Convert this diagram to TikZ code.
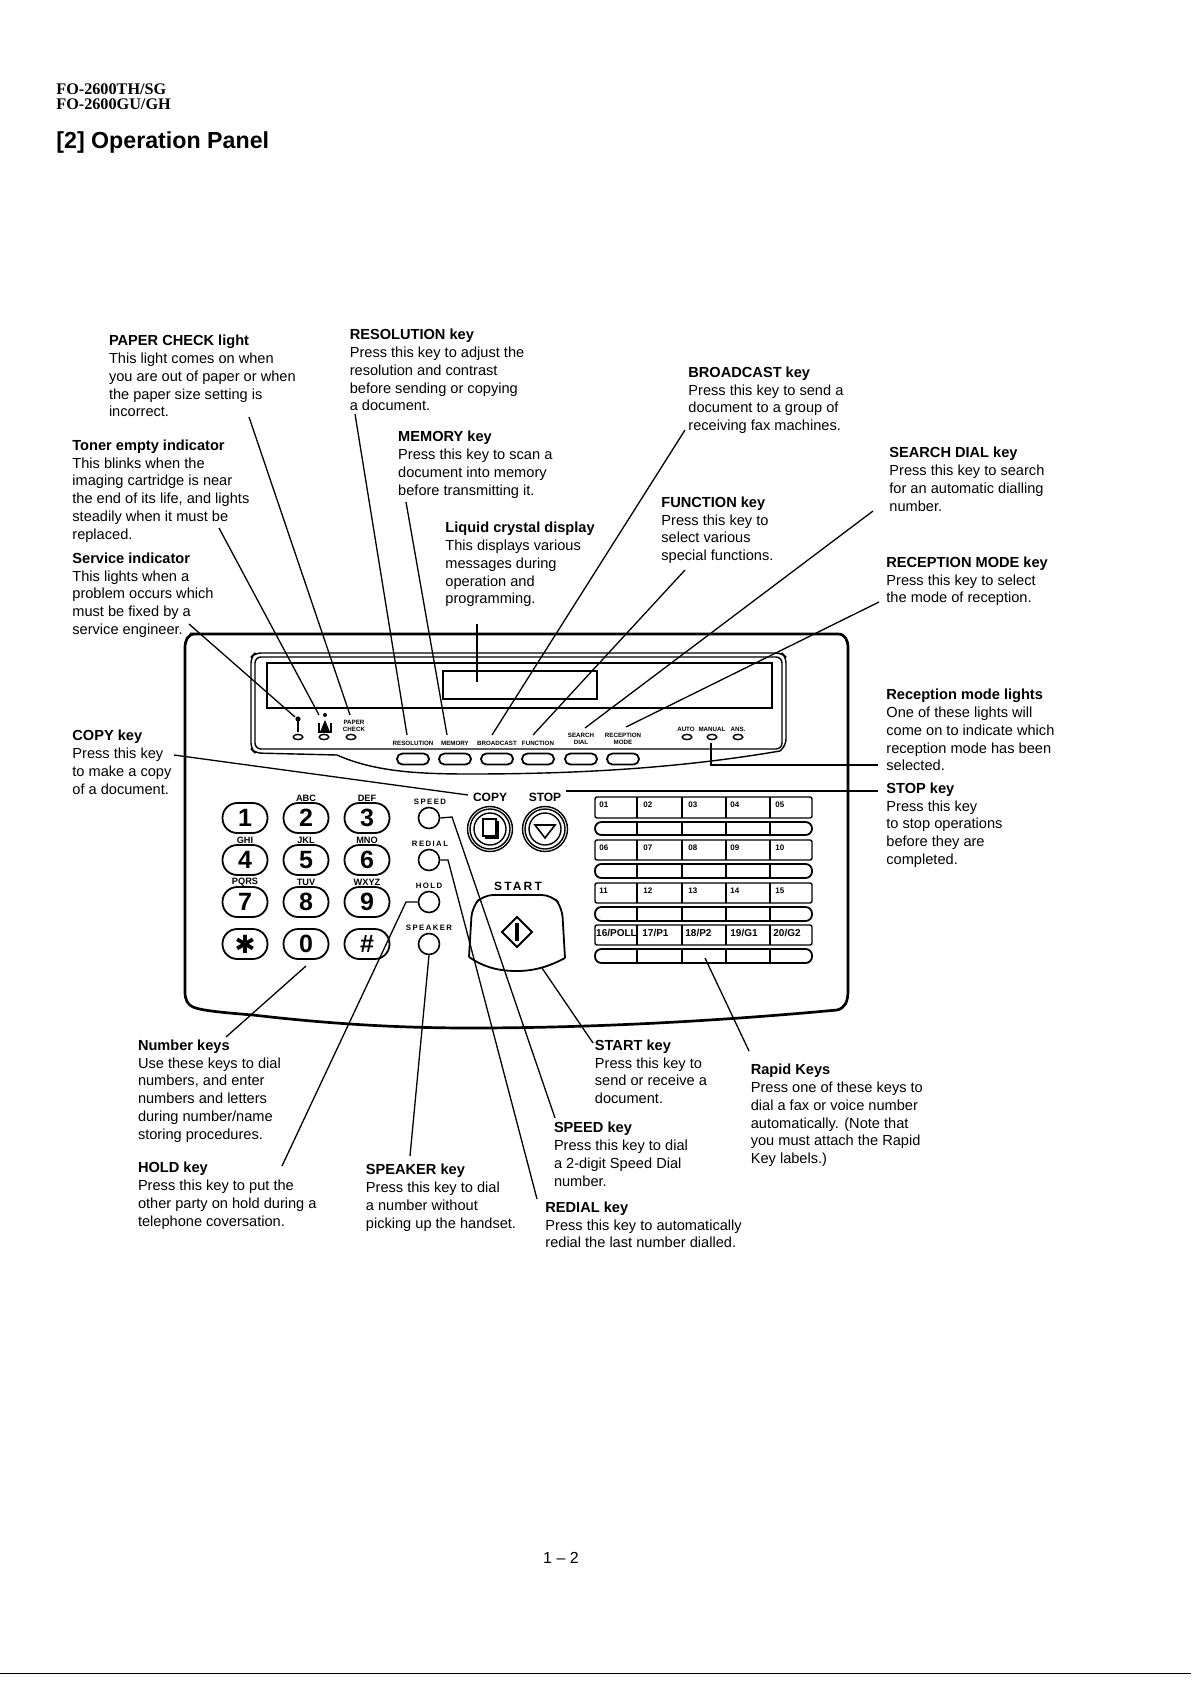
\documentclass[tikz,border=0pt]{standalone}
\usepackage{fontspec}
\setmainfont{Liberation Sans}
\newfontfamily\headserif{Liberation Serif}
\newfontfamily\symbfont{DejaVu Sans}
\newfontfamily\spacedfont[LetterSpace=18]{Liberation Sans}
\newcommand{\bl}[1]{\textbf{#1}}
\newcommand{\rf}[2]{\hspace*{#1}{\fontsize{5}{5}\selectfont #2}}
\tikzset{
  x=0.5pt,y=-0.5pt,
  lab/.style={anchor=north west,inner sep=0pt,align=left,font=\fontsize{7.3}{8.87}\selectfont},
  conn/.style={line width=0.65pt,draw=black},
  panel/.style={line width=1.35pt,draw=black},
  thin part/.style={line width=0.7pt,draw=black},
  numkey/.style={draw=black,line width=0.9pt,rounded corners=7.4pt,minimum width=22.5pt,minimum height=15pt,inner sep=0pt,font=\fontsize{12.5}{12}\selectfont\bfseries},
  letters/.style={inner sep=0pt,font=\fontsize{4.6}{5}\selectfont\bfseries},
  tiny/.style={inner sep=0pt,align=center,font=\fontsize{3.1}{3.3}\selectfont\bfseries},
  sidekey/.style={draw=black,line width=0.8pt,circle,minimum size=10.5pt,inner sep=0pt},
  sidetext/.style={inner sep=0pt,font=\fontsize{3.9}{4}\selectfont\bfseries\spacedfont},
  softkey/.style={draw=black,line width=0.9pt,rounded corners=2.7pt,minimum width=16pt,minimum height=5.5pt,inner sep=0pt},
  lamp/.style={draw=black,line width=0.7pt,ellipse,minimum width=4.8pt,minimum height=2.6pt,inner sep=0pt},
  rapidtext/.style={anchor=west,inner sep=0pt,font=\fontsize{4}{4}\selectfont\bfseries},
  bigtext/.style={inner sep=0pt,font=\fontsize{6}{6}\selectfont\bfseries},
  ring/.style={draw=black,line width=0.7pt,circle,inner sep=0pt},
}
\usetikzlibrary{shapes.geometric}
\begin{document}
\begin{tikzpicture}
\path[use as bounding box,fill=white] (0,0) rectangle (1191,1685);

% header
\node[anchor=west,inner sep=0pt,font=\fontsize{8.1}{8}\selectfont\headserif\bfseries] (h1) at (56,89) {FO-2600TH/SG};
\node[anchor=west,inner sep=0pt,font=\fontsize{8.1}{8}\selectfont\headserif\bfseries] (h2) at (56,104) {FO-2600GU/GH};
\node[anchor=west,inner sep=0pt,font=\fontsize{11.6}{12}\selectfont\bfseries] (title) at (56,143) {[2] Operation Panel};

% labels
\node[lab] (lpaper) at (108.6,335) {\bl{PAPER CHECK light}\\This light comes on when\\you are out of paper or when\\the paper size setting is\\incorrect.};
\node[lab] (lres) at (349.4,329) {\bl{RESOLUTION key}\\Press this key to adjust the\\resolution and contrast\\before sending or copying\\a document.};
\node[lab] (lbroad) at (688,366.5) {\bl{BROADCAST key}\\Press this key to send a\\document to a group of\\receiving fax machines.};
\node[lab] (lmem) at (397.8,431) {\bl{MEMORY key}\\Press this key to scan a\\document into memory\\before transmitting it.};
\node[lab] (ltoner) at (72,439.5) {\bl{Toner empty indicator}\\This blinks when the\\imaging cartridge is near\\the end of its life, and lights\\steadily when it must be\\replaced.};
\node[lab] (lsearch) at (889,447) {\bl{SEARCH DIAL key}\\Press this key to search\\for an automatic dialling\\number.};
\node[lab] (lfunc) at (661,496.5) {\bl{FUNCTION key}\\Press this key to\\select various\\special functions.};
\node[lab] (llcd) at (445,522) {\bl{Liquid crystal display}\\This displays various\\messages during\\operation and\\programming.};
\node[lab] (lserv) at (72,552.5) {\bl{Service indicator}\\This lights when a\\problem occurs which\\must be fixed by a\\service engineer.};
\node[lab] (lrecm) at (886,556.5) {\bl{RECEPTION MODE key}\\Press this key to select\\the mode of reception.};
\node[lab] (lrecl) at (886,689) {\bl{Reception mode lights}\\One of these lights will\\come on to indicate which\\reception mode has been\\selected.};
\node[lab] (lcopy) at (72,730) {\bl{COPY key}\\Press this key\\to make a copy\\of a document.};
\node[lab] (lstop) at (886,782.5) {\bl{STOP key}\\Press this key\\to stop operations\\before they are\\completed.};
\node[lab] (lnum) at (137.6,1039.5) {\bl{Number keys}\\Use these keys to dial\\numbers, and enter\\numbers and letters\\during number/name\\storing procedures.};
\node[lab] (lhold) at (137.6,1162) {\bl{HOLD key}\\Press this key to put the\\other party on hold during a\\telephone coversation.};
\node[lab] (lspk) at (365.5,1164) {\bl{SPEAKER key}\\Press this key to dial\\a number without\\picking up the handset.};
\node[lab] (lstart) at (594.5,1039.5) {\bl{START key}\\Press this key to\\send or receive a\\document.};
\node[lab] (lrapid) at (750.4,1064) {\bl{Rapid Keys}\\Press one of these keys to\\dial a fax or voice number\\automatically. (Note that\\you must attach the Rapid\\Key labels.)};
\node[lab] (lspeed) at (553.6,1122) {\bl{SPEED key}\\Press this key to dial\\a 2-digit Speed Dial\\number.};
\node[lab] (lredial) at (545,1201.5) {\bl{REDIAL key}\\Press this key to automatically\\redial the last number dialled.};
\node[inner sep=0pt,font=\fontsize{8}{9}\selectfont] (pageno) at (561,1558) {1 -- 2};

% panel outline
\draw[panel] (190,634) -- (838,634) .. controls (845,634) and (848,640) .. (848,648) -- (848,990) .. controls (848,1002) and (845,1008) .. (837,1010) .. controls (730,1020) and (600,1028) .. (470,1028) .. controls (400,1028) and (330,1024) .. (253,1015) .. controls (215,1012) and (200,1010) .. (193,1007) .. controls (188,1005) and (185,1000) .. (185,992) -- (185,648) .. controls (185,640) and (188,634) .. (195,634) -- cycle;

% display bezel
\draw[thin part,rounded corners=3pt] (255,657) rectangle (782,749);
\draw[thin part,rounded corners=3pt] (337,755) -- (255,753) -- (251,749) -- (251,657) -- (255,653) -- (782,653) -- (786,657) -- (786,745) -- (780,751);
\draw[thin part] (780,751) .. controls (680,768) and (580,774) .. (470,774) .. controls (420,774) and (375,772) .. (337,755);
\draw[thin part] (267,663) rectangle (772,708);
\node[draw=black,line width=0.9pt,minimum width=77pt,minimum height=14pt,inner sep=0pt] (lcd) at (520,685) {};

% indicators
\node[lamp] (l1) at (298,737) {};
\node[lamp] (l2) at (324,737) {};
\node[lamp] (l3) at (351,737) {};
\fill (298,719) circle (1.3pt);
\draw[line width=0.9pt] (298,719) -- (298,732);
\draw[line width=0.9pt] (319,732) -- (319,723) (331,732) -- (331,723) (318,732) -- (332,732);
\fill (320,732) -- (325,720) -- (330,732) -- cycle;
\fill (325,715) circle (1pt);
\node[tiny] (tpaper) at (354,726) {PAPER\\CHECK};
\node[lamp] (l4) at (687,737) {};
\node[lamp] (l5) at (712,737) {};
\node[lamp] (l6) at (738,737) {};
\node[tiny] (tauto) at (686,729) {AUTO};
\node[tiny] (tman) at (712,729) {MANUAL};
\node[tiny] (tans) at (738,729) {ANS.};

% soft keys
\foreach \nm/\xx/\lbl/\yy in {res/413/RESOLUTION/743,mem/455/MEMORY/743,bro/497/BROADCAST/743,fun/538/FUNCTION/743,sea/581/{SEARCH\\DIAL}/739,rec/623/{RECEPTION\\MODE}/739}{
  \node[softkey] (k\nm) at (\xx,759) {};
  \node[tiny] (t\nm) at (\xx,\yy) {\lbl};
}

% keypad
\node[numkey] (n1) at (245,818) {1};
\node[numkey] (n2) at (306,818) {2};
\node[numkey] (n3) at (367,818) {3};
\node[numkey] (n4) at (245,860) {4};
\node[numkey] (n5) at (306,860) {5};
\node[numkey] (n6) at (367,860) {6};
\node[numkey] (n7) at (245,902) {7};
\node[numkey] (n8) at (306,902) {8};
\node[numkey] (n9) at (367,902) {9};
\node[numkey] (nstar) at (245,944) {\symbfont\symbol{"2731}};
\node[numkey] (n0) at (306,944) {0};
\node[numkey] (nhash) at (367,944) {\#};
\node[letters] (ta) at (306,798) {ABC};
\node[letters] (td) at (367,798) {DEF};
\node[letters] (tg) at (245,840) {GHI};
\node[letters] (tj) at (306,840) {JKL};
\node[letters] (tm) at (367,840) {MNO};
\node[letters] (tp) at (245,882) {PQRS};
\node[letters] (tt) at (306,882) {TUV};
\node[letters] (tw) at (367,882) {WXYZ};

% side keys
\node[sidekey] (kspeed) at (429,818) {};
\node[sidekey] (kredial) at (429,860) {};
\node[sidekey] (khold) at (429,902) {};
\node[sidekey] (kspk) at (429,944) {};
\node[sidetext] (tspeed) at (430,802) {SPEED};
\node[sidetext] (tredial) at (430,844) {REDIAL};
\node[sidetext] (thold) at (429,886) {HOLD};
\node[sidetext] (tspk) at (429,928) {SPEAKER};

% copy / stop
\node[bigtext] (tcopy) at (490,797) {COPY};
\node[bigtext] (tstop) at (545,797) {STOP};
\node[ring,minimum size=22.5pt] (kcopy) at (490,829) {};
\node[ring,minimum size=20pt] (kcopyb) at (490,829) {};
\node[ring,minimum size=16pt] (kcopyc) at (490,829) {};
\node[ring,minimum size=22.5pt] (kstop) at (545,829) {};
\node[ring,minimum size=20pt] (kstopb) at (545,829) {};
\node[ring,minimum size=16pt] (kstopc) at (545,829) {};
\fill (485,821) rectangle (499,839);
\draw[fill=white,line width=0.7pt] (483,819) rectangle (496,836);
\draw[line width=0.8pt] (535,825) -- (555,825) -- (545,838) -- cycle;

% start
\node[inner sep=0pt,font=\fontsize{6}{6}\selectfont\bfseries\spacedfont] (tstart) at (518,886) {START};
\draw[line width=0.9pt,rounded corners=5pt] (469,957) -- (472,907) -- (483,895) -- (552,895) -- (562,907) -- (565,958);
\draw[line width=0.9pt] (469,957) .. controls (485,968) and (500,971) .. (517,971) .. controls (535,971) and (550,966) .. (565,958);
\draw[line width=0.9pt] (517,917) -- (532,932) -- (517,947) -- (502,932) -- cycle;
\draw[line width=1.6pt] (517,923) -- (517,941);

% rapid keys
\foreach \rowt/\rowb/\pillt/\pillb/\la/\lb/\lc/\ld/\le in {
  797/818/822/835/01/02/03/04/05,
  840/860/864/878/06/07/08/09/10,
  883/903/907/921/11/12/13/14/15,
  925/945/949/963/{\rf{-1.6pt}{16/POLL}}/{\rf{-0.5pt}{17/P1}}/{\rf{-1.5pt}{18/P2}}/{\rf{0pt}{19/G1}}/{\rf{-1pt}{20/G2}}}{
  \draw[thin part,rounded corners=1pt] (595,\rowt) rectangle (812,\rowb);
  \draw[thin part,line width=0.9pt,rounded corners=3.2pt] (595,\pillt) rectangle (812,\pillb);
  \foreach \cx in {637,682,726,770}{
    \draw[thin part] (\cx,\rowt) -- (\cx,\rowb);
    \draw[thin part] (\cx,\pillt) -- (\cx,\pillb);
  }
  \node[rapidtext] at (599,\rowt+8) {\la};
  \node[rapidtext] at (643,\rowt+8) {\lb};
  \node[rapidtext] at (688,\rowt+8) {\lc};
  \node[rapidtext] at (730,\rowt+8) {\ld};
  \node[rapidtext] at (775,\rowt+8) {\le};
}

% connector ends
\coordinate (e1a) at (249,417);   \coordinate (e1b) at (350,715);
\coordinate (e2a) at (219,528);   \coordinate (e2b) at (319,715);
\coordinate (e3a) at (189,624);   \coordinate (e3b) at (295,717);
\coordinate (e4a) at (355,414);   \coordinate (e4b) at (407,735);
\coordinate (e5a) at (406,502);   \coordinate (e5b) at (447,735);
\coordinate (e6a) at (477,624);   \coordinate (e6b) at (477,682);
\coordinate (e7a) at (685,430);   \coordinate (e7b) at (492,735);
\coordinate (e8a) at (685,570);   \coordinate (e8b) at (533,735);
\coordinate (e9a) at (873,511);   \coordinate (e9b) at (585,728);
\coordinate (e10a) at (879,602);  \coordinate (e10b) at (626,727);
\coordinate (e11a) at (174,755);  \coordinate (e11b) at (468,795);
\coordinate (e12a) at (566,791);  \coordinate (e12b) at (878,791);
\coordinate (e13a) at (711,743);  \coordinate (e13m) at (711,765); \coordinate (e13b) at (878,765);
\coordinate (e14a) at (306,966);  \coordinate (e14b) at (226,1037);
\coordinate (e15m) at (406,902);  \coordinate (e15b) at (282,1166);
\coordinate (e16b) at (410,1156);
\coordinate (e17m) at (452,817);  \coordinate (e17b) at (555,1118);
\coordinate (e18m) at (448,860);  \coordinate (e18b) at (537,1199);
\coordinate (e19a) at (542,968);  \coordinate (e19b) at (593,1043);
\coordinate (e20a) at (705,958);  \coordinate (e20b) at (749,1051);
\coordinate (pl) at (0,1673);     \coordinate (pr) at (1191,1673);

% connectors
\draw[conn] (e1a) -- (e1b);
\draw[conn] (e2a) -- (e2b);
\draw[conn] (e3a) -- (e3b);
\draw[conn] (e4a) -- (e4b);
\draw[conn] (e5a) -- (e5b);
\draw[conn] (e6a) -- (e6b);
\draw[conn] (e7a) -- (e7b);
\draw[conn] (e8a) -- (e8b);
\draw[conn] (e9a) -- (e9b);
\draw[conn] (e10a) -- (e10b);
\draw[conn] (e11a) -- (e11b);
\draw[conn] (e12a) -- (e12b);
\draw[conn] (e13a) -- (e13m) -- (e13b);
\draw[conn] (e14a) -- (e14b);
\draw[conn] (khold.west) -- (e15m) -- (e15b);
\draw[conn] (kspk.south) -- (e16b);
\draw[conn] (kspeed.east) -- (e17m) -- (e17b);
\draw[conn] (kredial.east) -- (e18m) -- (e18b);
\draw[conn] (e19a) -- (e19b);
\draw[conn] (e20a) -- (e20b);
\draw[line width=0.5pt] (pl) -- (pr);
\end{tikzpicture}
\end{document}
